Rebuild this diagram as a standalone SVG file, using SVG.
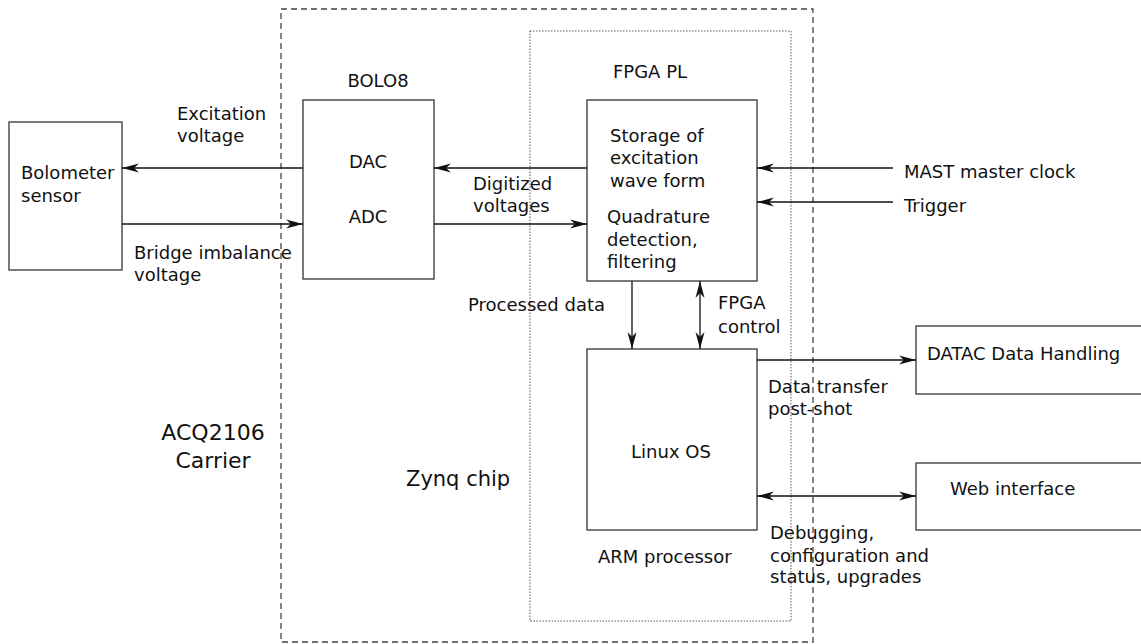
<svg xmlns="http://www.w3.org/2000/svg" width="1141" height="644" viewBox="0 0 1141 644">
<style>
text{font-family:"DejaVu Sans","Liberation Sans",sans-serif;font-size:18px;fill:#111}
.box{fill:#fff;stroke:#333;stroke-width:1.3}
.ln{stroke:#111;stroke-width:1.3;fill:none}
.big{font-size:22px}
.zq{font-size:21px}
.mid{text-anchor:middle}
</style>
<defs>
<marker id="ah" markerUnits="userSpaceOnUse" markerWidth="20" markerHeight="12" viewBox="-18 -6 20 12" refX="0" refY="0" orient="auto-start-reverse">
<path d="M0,0 L-17,-4.5 L-12,0 L-17,4.5 Z" fill="#111"/>
</marker>
</defs>
<rect x="281" y="9" width="532" height="633" fill="none" stroke="#444" stroke-width="1.3" stroke-dasharray="6,4"/>
<rect x="530" y="31" width="261" height="590" fill="none" stroke="#555" stroke-width="1" stroke-dasharray="1.5,1.5"/>
<g id="carrier-label"><text class="big mid" x="213" y="440">ACQ2106</text><text class="big mid" x="213" y="468">Carrier</text></g>
<g id="zynq-label"><text class="zq" x="406" y="486">Zynq chip</text></g>
<g id="bolometer"><rect class="box" x="9" y="122" width="113" height="148"/><text x="21" y="179">Bolometer</text><text x="21" y="202">sensor</text></g>
<g id="bolo8"><text class="mid" x="378" y="87">BOLO8</text><rect class="box" x="303" y="100" width="131" height="179"/><text class="mid" x="368" y="168">DAC</text><text class="mid" x="368" y="223">ADC</text></g>
<g id="fpga"><text class="mid" x="650" y="78">FPGA PL</text><rect class="box" x="587" y="100" width="170" height="181"/>
<text x="610" y="142">Storage of</text><text x="610" y="164">excitation</text><text x="610" y="187">wave form</text>
<text x="607" y="223">Quadrature</text><text x="607" y="246">detection,</text><text x="607" y="268">filtering</text></g>
<g id="arm"><rect class="box" x="587" y="349" width="170" height="181"/><text class="mid" x="671" y="458">Linux OS</text><text x="598" y="563">ARM processor</text></g>
<g id="datac"><rect class="box" x="916" y="326" width="230" height="68"/><text x="927" y="360">DATAC Data Handling</text></g>
<g id="web"><rect class="box" x="916" y="463" width="230" height="67"/><text x="950" y="495">Web interface</text></g>
<g id="connectors">
<line class="ln" x1="303" y1="168" x2="122" y2="168" marker-end="url(#ah)"/>
<line class="ln" x1="122" y1="224" x2="303" y2="224" marker-end="url(#ah)"/>
<line class="ln" x1="587" y1="168" x2="434" y2="168" marker-end="url(#ah)"/>
<line class="ln" x1="434" y1="224" x2="587" y2="224" marker-end="url(#ah)"/>
<line class="ln" x1="893" y1="168" x2="757" y2="168" marker-end="url(#ah)"/>
<line class="ln" x1="893" y1="202" x2="757" y2="202" marker-end="url(#ah)"/>
<line class="ln" x1="632" y1="281" x2="632" y2="349" marker-end="url(#ah)"/>
<line class="ln" x1="700" y1="281" x2="700" y2="349" marker-start="url(#ah)" marker-end="url(#ah)"/>
<line class="ln" x1="757" y1="360" x2="916" y2="360" marker-end="url(#ah)"/>
<line class="ln" x1="757" y1="496" x2="916" y2="496" marker-start="url(#ah)" marker-end="url(#ah)"/>
</g>
<g id="labels">
<text x="177" y="120">Excitation</text><text x="177" y="142">voltage</text>
<text x="134" y="259">Bridge imbalance</text><text x="134" y="281">voltage</text>
<text x="473" y="190">Digitized</text><text x="473" y="212">voltages</text>
<text x="904" y="178">MAST master clock</text><text x="904" y="212">Trigger</text>
<text x="468" y="311">Processed data</text>
<text x="718" y="309">FPGA</text><text x="718" y="333">control</text>
<text x="768" y="393">Data transfer</text><text x="768" y="415">post-shot</text>
<text x="770" y="539">Debugging,</text><text x="770" y="562">configuration and</text><text x="770" y="583">status, upgrades</text>
</g>
</svg>
